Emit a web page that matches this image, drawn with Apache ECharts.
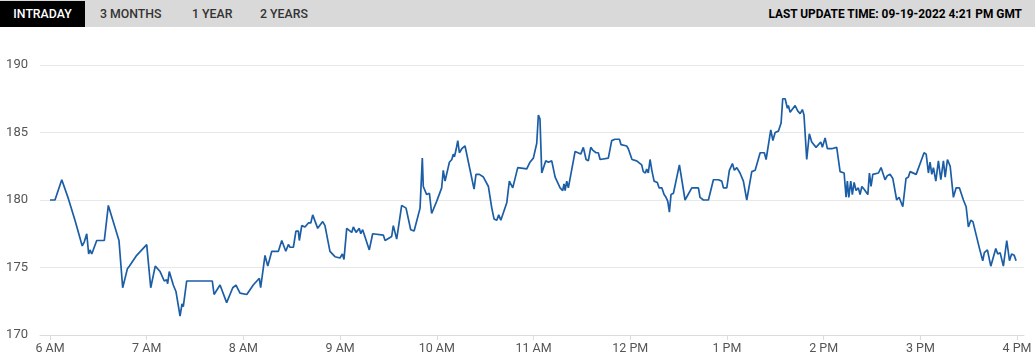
<!DOCTYPE html>
<html>
<head>
<meta charset="utf-8">
<script src="https://cdn.jsdelivr.net/npm/echarts@6/dist/echarts.min.js"></script>
<style>
  html, body { margin: 0; padding: 0; background: #fff; }
  #wrap { position: relative; width: 1035px; height: 362px; overflow: hidden; }
  #chart { position: absolute; left: 0; top: 0; width: 1035px; height: 362px; }
  #bar { position: absolute; left: 0; top: 0; width: 1035px; height: 27px; background: #d9d9d9; z-index: 2;
         font-family: Roboto, "Liberation Sans", Arial, sans-serif; font-size: 12.3px; font-weight: 500; }
  .tab { position: absolute; top: 0; height: 27px; line-height: 28px; color: #333; }
  .tab.active { background: #000; color: #fff; left: 0; width: 85px; text-align: center; top: 1px; height: 26px; line-height: 26px; }
  #upd { position: absolute; right: 13px; top: 0; height: 27px; line-height: 28px; color: #000; font-weight: 700; font-size: 11.9px; }
</style>
</head>
<body>
<div id="wrap">
  <div id="chart"></div>
  <div id="bar">
    <div class="tab active">INTRADAY</div>
    <div class="tab" style="left:100px">3 MONTHS</div>
    <div class="tab" style="left:192px">1 YEAR</div>
    <div class="tab" style="left:260px">2 YEARS</div>
    <div id="upd">LAST UPDATE TIME: 09-19-2022 4:21 PM GMT</div>
  </div>
</div>
<script>
// minutes after 6:00 AM
const minutes = [0,3.1,7.3,11.4,15.5,20.0,21.3,22.8,24.0,24.8,25.9,26.9,29.0,33.7,36.2,42.8,45.1,45.9,48.0,49.2,53.8,60.0,62.5,65.3,68.3,70.9,72.4,73.0,74.0,76.5,78.2,79.2,80.7,81.9,82.7,84.8,100.7,101.8,105.5,109.6,113.4,115.4,117.9,122.1,126.1,129.9,130.7,133.4,135.1,137.6,141.7,143.8,144.8,146.3,147.9,148.9,151.0,152.6,154.1,154.7,156.2,158.2,160.3,161.8,163.0,166.1,169.2,170.6,173.7,176.8,179.9,181.4,182.4,184.1,187.2,188.2,189.9,191.9,192.8,194.0,198.1,200.2,206.8,207.9,212.0,213.0,215.1,216.1,218.2,220.9,223.8,225.9,229.6,231.0,231.6,232.7,233.7,235.4,236.8,239.9,243.0,244.0,245.1,247.8,249.3,250.2,250.9,251.9,253.0,254.0,255.5,257.5,258.6,263.1,264.3,266.4,268.9,272.0,274.1,275.5,277.2,278.4,279.7,283.4,285.0,287.1,290.2,295.8,297.8,299.9,302.0,303.0,304.0,305.1,307.6,309.2,311.3,313.4,316.5,318.1,318.9,319.6,320.6,321.6,325.8,329.3,330.9,332.6,334.0,335.5,336.7,338.8,340.2,341.3,346.4,348.5,350.6,353.3,354.3,357.8,358.8,359.9,361.1,364.0,367.1,368.1,369.4,370.2,371.2,372.3,373.4,374.8,375.8,376.8,377.9,379.6,381.0,382.2,383.3,384.3,385.3,386.8,390.5,394.0,395.1,398.2,402.3,403.3,405.4,408.5,411.6,414.7,416.8,417.8,419.9,421.5,423.4,424.6,426.1,428.1,430.2,432.3,435.4,437.5,440.6,443.2,444.3,447.2,448.5,449.9,451.9,453.6,454.6,456.1,457.5,458.1,459.2,460.4,462.3,463.9,465.4,466.8,467.8,469.5,471.1,472.6,475.3,476.3,478.2,479.2,480.9,482.3,485.0,488.1,490.2,492.7,493.9,494.7,495.6,496.8,497.8,498.9,500.1,501.5,502.6,503.7,505.1,506.3,507.4,508.4,509.4,510.5,514.0,515.6,518.1,519.5,521.2,522.9,525.3,526.8,529.1,531.1,532.6,533.6,537.4,542.3,543.6,545.0,546.0,547.1,548.1,549.6,551.2,552.7,554.3,555.4,556.8,558.5,560.5,562.2,564.2,566.7,568.4,569.8,571.3,572.6,576.7,577.7,578.7,579.7,581.6,583.7,584.9,586.8,588.0,589.5,590.5,591.5,593.6,595.3,596.6,598.2,599.4];
const prices = [180.0,180.0,181.5,180.1,178.5,176.6,176.9,177.5,176.0,176.3,176.0,176.1,177.0,177.0,179.6,177.0,173.5,173.5,174.9,175.1,175.9,176.7,173.5,175.1,174.7,174.0,174.1,173.8,174.7,173.7,173.2,173.1,171.4,172.3,172.1,174.0,174.0,173.0,173.7,172.4,173.5,173.7,173.1,173.0,173.7,174.2,173.5,175.9,175.1,176.2,176.2,177.0,177.0,176.2,176.7,176.5,176.5,177.7,177.7,177.0,178.1,178.0,178.3,178.3,178.9,177.9,178.4,178.1,176.2,175.8,175.7,176.0,175.6,177.9,177.6,178.0,177.6,177.9,177.5,177.8,176.3,177.5,177.4,177.0,177.3,178.1,177.1,177.1,179.6,179.4,177.8,177.7,179.4,183.1,181.0,180.9,180.4,180.5,179.0,179.9,180.9,182.2,181.4,182.8,183.0,183.4,183.2,183.7,184.4,183.5,183.8,184.0,183.9,180.8,181.9,181.9,181.7,181.0,179.4,178.6,178.5,178.9,178.5,179.8,181.4,180.9,182.4,182.3,182.8,183.1,184.2,186.3,186.0,182.0,182.9,182.8,182.9,181.7,180.9,180.7,181.2,180.7,181.4,180.9,183.6,183.4,183.9,183.0,182.9,183.9,183.7,183.5,183.5,183.0,183.1,184.4,184.5,184.5,184.1,184.0,183.8,183.9,183.0,182.9,182.6,182.1,182.0,182.3,182.0,183.0,182.2,181.4,181.5,181.3,180.9,180.9,180.4,180.2,179.9,179.1,180.4,180.5,182.6,180.0,180.0,180.9,180.9,180.2,180.0,180.0,181.5,181.5,181.4,180.9,180.9,182.2,182.7,182.2,182.4,182.0,181.4,180.0,182.1,182.2,183.5,183.5,183.0,185.2,184.4,185.0,185.1,185.7,187.5,187.5,186.8,187.0,186.5,186.5,187.0,186.6,186.4,186.7,186.3,183.0,184.9,184.3,183.9,183.8,184.3,183.9,184.6,183.8,183.8,183.9,182.1,182.0,180.2,181.4,180.2,181.4,180.4,181.3,180.7,180.9,180.4,181.0,180.8,180.9,180.4,182.0,181.0,181.9,182.0,182.4,181.5,181.8,181.9,181.6,180.0,180.2,179.5,181.6,181.7,182.1,181.9,183.5,183.4,182.0,182.8,181.9,182.4,181.4,182.9,181.5,182.9,181.7,183.0,182.5,180.2,180.9,180.9,180.0,179.5,178.0,178.5,178.4,176.4,176.3,175.5,176.1,176.3,175.1,175.0,176.4,176.0,176.1,176.0,175.1,177.0,175.5,176.0,175.9,175.5];
const xTickMinutes = [0,60,120,180,240,300,360,420,480,540,600];
const xTickLabels = ['6 AM','7 AM','8 AM','9 AM','10 AM','11 AM','12 PM','1 PM','2 PM','3 PM','4 PM'];
const yTicks = [170,175,180,185,190];

const seriesData = minutes.map((m, i) => [m, prices[i]]);
const chart = echarts.init(document.getElementById('chart'), null, { renderer: 'canvas' });
chart.setOption({
  animation: false,
  grid: { left: 40, right: 11, top: 65, bottom: 27, containLabel: false },
  xAxis: {
    type: 'value',
    min: -6.2,
    max: 604.3,
    axisLine: { show: true, lineStyle: { color: '#dcdcdc', width: 1 } },
    axisTick: { show: true, customValues: xTickMinutes, length: 5, lineStyle: { color: '#dcdcdc' } },
    axisLabel: {
      customValues: xTickMinutes,
      color: '#555', fontSize: 12.5, fontFamily: 'Roboto, "Liberation Sans", Arial, sans-serif',
      margin: 7,
      formatter: function (v) { const i = xTickMinutes.indexOf(Math.round(v)); return i >= 0 ? xTickLabels[i] : ''; }
    },
    splitLine: { show: false }
  },
  yAxis: {
    type: 'value',
    min: yTicks[0], max: yTicks[yTicks.length - 1], interval: 5,
    axisLine: { show: false },
    axisTick: { show: false },
    axisLabel: { color: '#555', fontSize: 13, fontFamily: 'Roboto, "Liberation Sans", Arial, sans-serif', margin: 12, align: 'right' },
    splitLine: { show: true, lineStyle: { color: '#e8e8e8', width: 1 } }
  },
  series: [{
    type: 'line',
    data: seriesData,
    showSymbol: false,
    symbol: 'none',
    lineStyle: { color: '#1b5ea6', width: 1.7 },
    silent: true
  }]
});
</script>
</body>
</html>
